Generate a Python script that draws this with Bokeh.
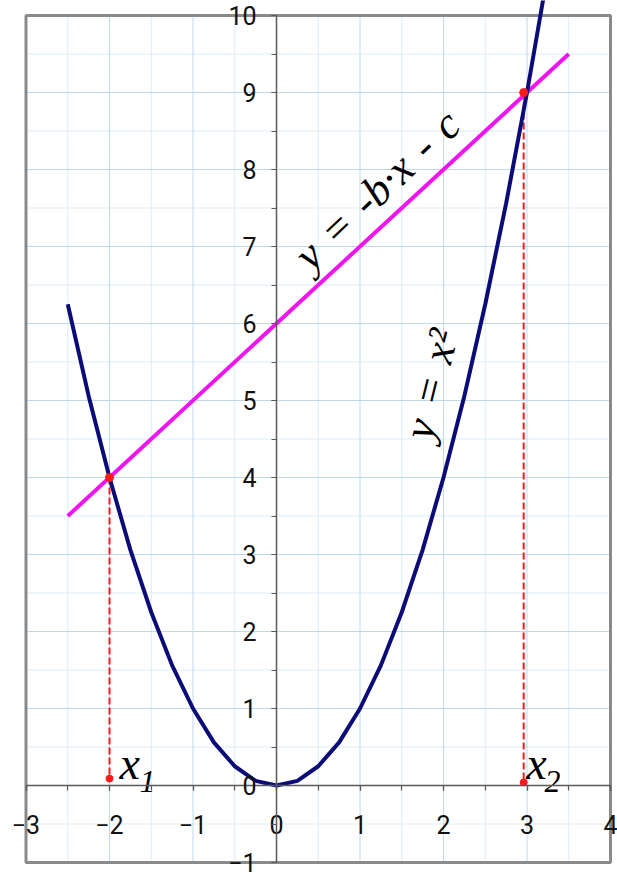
from bokeh.plotting import figure
from bokeh.models import LinearAxis, FixedTicker, Range1d
from bokeh.core.properties import value
from bokeh.embed import file_html
from bokeh.resources import INLINE

# ---- data ----
x_ticks = [-3, -2, -1, 0, 1, 2, 3, 4]
x_minor = [-3, -2.5, -2, -1.5, -1, -0.5, 0, 0.5, 1, 1.5, 2, 2.5, 3, 3.5, 4]
y_ticks = [-1, 0, 1, 2, 3, 4, 5, 6, 7, 8, 9, 10]
y_minor = [-1, -0.5, 0, 0.5, 1, 1.5, 2, 2.5, 3, 3.5, 4, 4.5, 5, 5.5, 6, 6.5,
           7, 7.5, 8, 8.5, 9, 9.5, 10]

parab_x = [-2.5, -2.25, -2.0, -1.75, -1.5, -1.25, -1.0, -0.75, -0.5, -0.25, 0.0,
           0.25, 0.5, 0.75, 1.0, 1.25, 1.5, 1.75, 2.0, 2.25, 2.5, 2.75, 3.0, 3.25]
parab_y = [6.25, 5.06, 4.0, 3.06, 2.25, 1.56, 1.0, 0.56, 0.25, 0.06, 0.0,
           0.06, 0.25, 0.56, 1.0, 1.56, 2.25, 3.06, 4.0, 5.06, 6.25, 7.56, 9.0, 10.56]

line_x = [-2.5, 3.5]
line_y = [3.5, 9.5]

root_x = [-2.0, 2.96]
root_y = [4.0, 9.0]
foot_y = [0.09, 0.04]

root_names = ["x", "x"]
root_subs = ["1", "2"]

line_label = "y\u2004=\u2004-b\u00b7x\u2004-\u2004c"
parab_label = "y\u2004=\u2004x\u00b2"

# ---- layout (pixels) ----
W, H = 617, 872
BOX_L, BOX_R, BOX_T, BOX_B = 25.5, 610.0, 15.0, 862.0

x0, x1 = x_ticks[0], x_ticks[-1]
y0, y1 = y_ticks[0], y_ticks[-1]
xppu = (BOX_R - BOX_L) / (x1 - x0)
yppu = (BOX_B - BOX_T) / (y1 - y0)
xr = Range1d(x0 - BOX_L / xppu, x1 + (W - BOX_R) / xppu)
yr = Range1d(y0 - (H - BOX_B) / yppu, y1 + BOX_T / yppu)

p = figure(width=W, height=H, output_backend="svg", toolbar_location=None,
           x_axis_type=None, y_axis_type=None, x_range=xr, y_range=yr,
           min_border_left=0, min_border_right=0, min_border_top=0, min_border_bottom=0)
p.outline_line_color = None
p.background_fill_color = "white"
p.border_fill_color = "white"
p.xgrid.visible = False
p.ygrid.visible = False

# ---- grid ----
xm = [v for v in x_minor if v not in x_ticks]
ym = [v for v in y_minor if v not in y_ticks]
p.segment(x0=xm, y0=[y0] * len(xm), x1=xm, y1=[y1] * len(xm),
          line_color="#dcedf8", line_width=1)
p.segment(x0=[x0] * len(ym), y0=ym, x1=[x1] * len(ym), y1=ym,
          line_color="#dcedf8", line_width=1)
p.segment(x0=x_ticks, y0=[y0] * len(x_ticks), x1=x_ticks, y1=[y1] * len(x_ticks),
          line_color="#bcd9ee", line_width=1)
p.segment(x0=[x0] * len(y_ticks), y0=y_ticks, x1=[x1] * len(y_ticks), y1=y_ticks,
          line_color="#bcd9ee", line_width=1)

# ---- axes ----
xt = FixedTicker(ticks=x_ticks, minor_ticks=x_minor)
yt = FixedTicker(ticks=y_ticks, minor_ticks=y_minor)
tick_font = "Liberation Sans Narrow, Roboto"

xa = LinearAxis(ticker=xt, fixed_location=0, bounds=(x0, x1))
ya = LinearAxis(ticker=yt, fixed_location=0, bounds=(y0, y1))
for ax in (xa, ya):
    ax.axis_line_color = "#5a5a5a"
    ax.axis_line_width = 1.5
    ax.major_tick_line_color = "#5a5a5a"
    ax.minor_tick_line_color = "#5a5a5a"
    ax.major_tick_line_width = 1.2
    ax.minor_tick_line_width = 1.2
    ax.major_tick_out = 5
    ax.major_tick_in = 0
    ax.minor_tick_out = 5
    ax.minor_tick_in = 0
    ax.major_label_text_font = tick_font
    ax.major_label_text_font_size = "25px"
    ax.major_label_text_color = "#111111"
xa.major_label_standoff = 24
ya.major_label_standoff = 15
p.add_layout(xa, "below")
p.add_layout(ya, "left")

# ---- box outline ----
p.quad(left=[x0], right=[x1], bottom=[y0], top=[y1], fill_color=None,
       line_color="#8a8a8a", line_width=3)

# dashed drop lines
p.segment(x0=root_x, y0=root_y, x1=root_x, y1=foot_y,
          line_color="#ff1a1a", line_width=2, line_dash="7 3")

# curves
p.line(line_x, line_y, line_color="#f014f0", line_width=4)
p.line(parab_x, parab_y, line_color="#0c0c78", line_width=4)

# points
p.scatter(root_x, root_y, size=8, color="#ff1a1a")
p.scatter(root_x, foot_y, size=7, color="#ff1a1a")

serif = value("Liberation Serif")

p.text(x=[0.30], y=[6.80], text=[line_label], angle=0.76,
       text_font=serif, text_font_style="italic", text_font_size="44px",
       text_color="black", text_align="left", text_baseline="alphabetic")
p.text(x=[1.69], y=[4.51], text=[parab_label], angle=1.326,
       text_font=serif, text_font_style="italic", text_font_size="44px",
       text_color="black", text_align="left", text_baseline="alphabetic")

p.text(x=[-1.88, 2.99], y=[0.29, 0.29], text=root_names,
       text_font=serif, text_font_style="italic", text_font_size="46px",
       text_color="black", text_align="left", text_baseline="alphabetic")
p.text(x=[-1.64, 3.21], y=[0.05, 0.05], text=root_subs,
       text_font=serif, text_font_style="italic", text_font_size="32px",
       text_color="black", text_align="left", text_baseline="alphabetic")

open("out.html", "w").write(file_html(p, INLINE))
